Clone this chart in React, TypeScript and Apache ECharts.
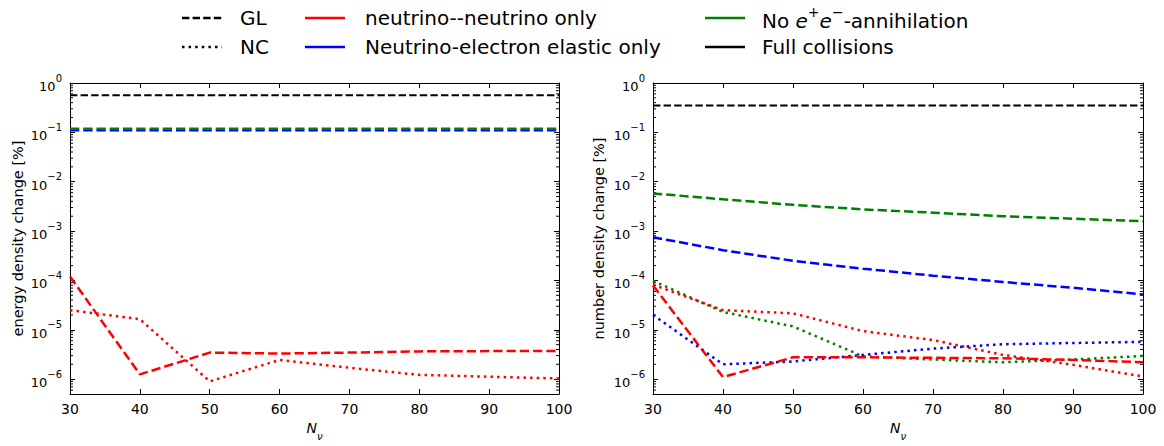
import React, { useEffect, useRef } from "react";
import * as echarts from "echarts";

const FONT = "DejaVu Sans";

// x values: number of momentum bins N_nu
const NU = [30, 40, 50, 60, 70, 80, 90, 100];

// Left panel: energy density change [%]
const E_FULL_GL = [0.566, 0.566, 0.566, 0.566, 0.566, 0.566, 0.566, 0.566];
const E_NOANN_GL = [0.119, 0.119, 0.119, 0.119, 0.119, 0.119, 0.119, 0.119];
const E_NUEL_GL = [0.11, 0.11, 0.11, 0.11, 0.11, 0.11, 0.11, 0.11];
const E_NUNU_GL = [1.2e-4, 1.25e-6, 3.45e-6, 3.3e-6, 3.45e-6, 3.65e-6, 3.7e-6, 3.7e-6];
const E_NUNU_NC = [2.5e-5, 1.64e-5, 9e-7, 2.45e-6, 1.7e-6, 1.22e-6, 1.12e-6, 1.03e-6];

// Right panel: number density change [%]
const N_FULL_GL = [0.35, 0.35, 0.35, 0.35, 0.35, 0.35, 0.35, 0.35];
const N_NOANN_GL = [5.8e-3, 4.4e-3, 3.4e-3, 2.75e-3, 2.36e-3, 2.0e-3, 1.78e-3, 1.58e-3];
const N_NUEL_GL = [7.5e-4, 4.1e-4, 2.5e-4, 1.73e-4, 1.25e-4, 9.3e-5, 7.1e-5, 5.2e-5];
const N_NUNU_GL = [7.9e-5, 1.1e-6, 2.77e-6, 2.77e-6, 2.7e-6, 2.65e-6, 2.45e-6, 2.2e-6];
const N_NOANN_NC = [9.8e-5, 2.3e-5, 1.17e-5, 2.9e-6, 2.5e-6, 2.2e-6, 2.5e-6, 2.95e-6];
const N_NUNU_NC = [8.2e-5, 2.5e-5, 2.15e-5, 9.4e-6, 6.2e-6, 3.1e-6, 1.95e-6, 1.13e-6];
const N_NUEL_NC = [2.0e-5, 2.0e-6, 2.28e-6, 3.1e-6, 4.15e-6, 5.1e-6, 5.4e-6, 5.7e-6];

const Y_MIN = 5e-7;
const Y_MAX = 1;
const X_MIN = 30;
const X_MAX = 100;
const X_STEP = 10;

// log-axis minor tick positions (mantissa x 10^decade)
const MINOR_MANTISSA = [2, 3, 4, 5, 6, 7, 8, 9];
const MINOR_DECADES = [-7, -6, -5, -4, -3, -2, -1];

const LEFT_YNAME = "energy density change [%]";
const RIGHT_YNAME = "number density change [%]";

const RED = "#ff0000";
const BLUE = "#0000ff";
const GREEN = "#008000";
const BLACK = "#000000";

const DASH_K = [7.4, 3.2];
const DASH_C = [9.25, 4];
const DOT_C = [2.5, 4.1];

const MINOR_VALUES: number[] = [];
MINOR_DECADES.forEach((d) =>
  MINOR_MANTISSA.forEach((m) => {
    const v = m * Math.pow(10, d);
    if (v > Y_MIN && v < Y_MAX) MINOR_VALUES.push(v);
  })
);

const yLabelRich = {
  b: { fontFamily: FONT, fontSize: 13, color: "#000", lineHeight: 20, verticalAlign: "bottom" },
  s: { fontFamily: FONT, fontSize: 10, color: "#000", lineHeight: 20, verticalAlign: "top" },
};

function yFormatter(v: number) {
  const lg = Math.log10(v);
  const e = Math.round(lg);
  if (Math.abs(lg - e) > 1e-6) return "";
  const s = e < 0 ? "\u2212" + String(-e) : String(e);
  return `{b|10}{s|${s}}`;
}

function yAxis(gridIndex: number, position: string, labels: boolean, name: string, nameGap: number) {
  return {
    type: "log",
    logBase: 10,
    gridIndex,
    position,
    min: Y_MIN,
    max: Y_MAX,
    axisLine: { show: true, onZero: false, lineStyle: { color: "#000", width: 1 } },
    axisTick: { show: true, inside: true, length: 5, lineStyle: { color: "#000", width: 1 } },
    minorTick: { show: false },
    splitLine: { show: false },
    minorSplitLine: { show: false },
    axisLabel: { show: labels, formatter: yFormatter, rich: yLabelRich, margin: 8 },
    name: labels ? name : "",
    nameLocation: "middle",
    nameGap,
    nameTextStyle: { fontFamily: FONT, fontSize: 14.5, color: "#000" },
  };
}

function xAxis(gridIndex: number, position: string, labels: boolean) {
  return {
    type: "value",
    gridIndex,
    position,
    min: X_MIN,
    max: X_MAX,
    interval: X_STEP,
    axisLine: { show: true, onZero: false, lineStyle: { color: "#000", width: 1 } },
    axisTick: { show: true, inside: true, length: 5, lineStyle: { color: "#000", width: 1 } },
    splitLine: { show: false },
    axisLabel: {
      show: labels,
      fontFamily: FONT,
      fontSize: 14,
      color: "#000",
      margin: 8,
    },
    name: labels ? "{n|N}{s|\u03bd}" : "",
    nameLocation: "middle",
    nameGap: 27,
    nameTextStyle: {
      rich: {
        n: { fontFamily: FONT, fontSize: 14, fontStyle: "italic", color: "#000", lineHeight: 20, verticalAlign: "top" },
        s: { fontFamily: FONT, fontSize: 10, fontStyle: "italic", color: "#000", lineHeight: 20, verticalAlign: "bottom" },
      },
    },
  };
}

function line(name: string, grid: number, data: number[], color: string, type: number[], width: number) {
  return {
    type: "line",
    name,
    xAxisIndex: grid * 2,
    yAxisIndex: grid * 2,
    data: NU.map((x, i) => [x, data[i]]),
    symbol: "none",
    silent: true,
    lineStyle: { color, width, type, cap: "butt" },
  };
}

function minorTicks(grid: number) {
  return {
    type: "custom",
    name: "minor ticks " + grid,
    xAxisIndex: grid * 2,
    yAxisIndex: grid * 2,
    silent: true,
    clip: false,
    data: MINOR_VALUES.map((v) => [X_MIN, v]),
    encode: { x: 0, y: 1 },
    renderItem: (_params: any, api: any) => {
      const v = api.value(1);
      const p0 = api.coord([X_MIN, v]);
      const p1 = api.coord([X_MAX, v]);
      const st = { stroke: "#000", lineWidth: 1 };
      return {
        type: "group",
        children: [
          { type: "line", shape: { x1: p0[0], y1: p0[1], x2: p0[0] + 3, y2: p0[1] }, style: st },
          { type: "line", shape: { x1: p1[0] - 3, y1: p1[1], x2: p1[0], y2: p1[1] }, style: st },
        ],
      };
    },
  };
}

function legendItem(x: number, y: number, color: string, type: any, width: number) {
  return {
    type: "line",
    shape: { x1: x, y1: y, x2: x + 40, y2: y },
    style: { stroke: color, lineWidth: width, lineDash: type, lineCap: "butt" },
  };
}

function legendText(x: number, y: number, text: string, rich?: any) {
  return {
    type: "text",
    x,
    y,
    style: {
      text,
      fontFamily: FONT,
      fontSize: 20,
      fill: "#000",
      verticalAlign: "middle",
      align: "left",
      rich,
    },
  };
}

export default function App() {
  const ref = useRef<HTMLDivElement>(null);
  useEffect(() => {
    if (!ref.current) return;
    const chart = echarts.init(ref.current, undefined, { renderer: "svg" });
    const R1 = 18;
    const R2 = 47;
    const annRich = {
      t: { fontFamily: FONT, fontSize: 20, fill: "#000", lineHeight: 26, verticalAlign: "bottom" },
      e: { fontFamily: FONT, fontSize: 20, fontStyle: "italic", fill: "#000", lineHeight: 26, verticalAlign: "bottom" },
      s: { fontFamily: FONT, fontSize: 14, fill: "#000", lineHeight: 26, verticalAlign: "top" },
    };
    chart.setOption({
      animation: false,
      backgroundColor: "#ffffff",
      grid: [
        { left: 70, top: 83, width: 489, height: 324 },
        { left: 653, top: 83, width: 490, height: 324 },
      ],
      xAxis: [xAxis(0, "bottom", true), xAxis(0, "top", false), xAxis(1, "bottom", true), xAxis(1, "top", false)],
      yAxis: [
        yAxis(0, "left", true, LEFT_YNAME, 45),
        yAxis(0, "right", false, "", 0),
        yAxis(1, "left", true, RIGHT_YNAME, 47),
        yAxis(1, "right", false, "", 0),
      ],
      series: [
        minorTicks(0),
        minorTicks(1),
        line("Full collisions GL", 0, E_FULL_GL, BLACK, DASH_K, 2),
        line("Neutrino-electron elastic only GL", 0, E_NUEL_GL, BLUE, DASH_C, 2.5),
        line("No e+e- annihilation GL", 0, E_NOANN_GL, GREEN, DASH_C, 2.5),
        line("neutrino--neutrino only NC", 0, E_NUNU_NC, RED, DOT_C, 2.5),
        line("neutrino--neutrino only GL", 0, E_NUNU_GL, RED, DASH_C, 2.5),

        line("Full collisions GL ", 1, N_FULL_GL, BLACK, DASH_K, 2),
        line("No e+e- annihilation GL ", 1, N_NOANN_GL, GREEN, DASH_C, 2.5),
        line("Neutrino-electron elastic only GL ", 1, N_NUEL_GL, BLUE, DASH_C, 2.5),
        line("No e+e- annihilation NC ", 1, N_NOANN_NC, GREEN, DOT_C, 2.5),
        line("neutrino--neutrino only NC ", 1, N_NUNU_NC, RED, DOT_C, 2.5),
        line("Neutrino-electron elastic only NC ", 1, N_NUEL_NC, BLUE, DOT_C, 2.5),
        line("neutrino--neutrino only GL ", 1, N_NUNU_GL, RED, DASH_C, 2.5),
      ],
      graphic: [
        legendItem(182, R1, BLACK, DASH_K, 2.5),
        legendText(240, R1, "GL"),
        legendItem(182, R2, BLACK, [2.5, 4.1], 2.5),
        legendText(240, R2, "NC"),
        legendItem(305, R1, RED, null, 2.5),
        legendText(365, R1, "neutrino--neutrino only"),
        legendItem(305, R2, BLUE, null, 2.5),
        legendText(365, R2, "Neutrino-electron elastic only"),
        legendItem(705, R1, GREEN, null, 2.5),
        legendText(762, R1, "{t|No }{e|e}{s|+}{e|e}{s|\u2212}{t|-annihilation}", annRich),
        legendItem(705, R2, BLACK, null, 2.5),
        legendText(762, R2, "Full collisions"),
      ],
    });
    return () => chart.dispose();
  }, []);
  return (
    <div
      ref={ref}
      style={{ position: "fixed", left: 0, top: 0, width: 1164, height: 446, background: "#fff" }}
    />
  );
}
